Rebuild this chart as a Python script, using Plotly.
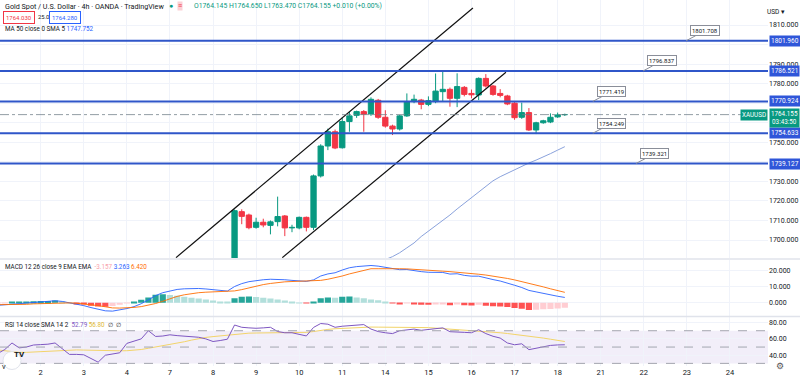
import plotly.graph_objects as go
from plotly.subplots import make_subplots

# ---------------- data ----------------
# 4h bars, index 0 = first bar of Nov 2 (6 bars per trading day)
day_ticks = [0, 6, 12, 18, 24, 30, 36, 42, 48, 54, 60, 66, 72, 78, 84, 90, 96]
day_labels = ["2", "3", "4", "7", "8", "9", "10", "11", "14", "15", "16", "17", "18", "21", "22", "23", "24"]

candle_idx = list(range(27, 74))
opens = [1676.0, 1714.5, 1712.8, 1706.5, 1709.1, 1707.5, 1709.4, 1712.3, 1706.2, 1706.2, 1711.6, 1706.5,
         1732.8, 1748.1, 1755.4, 1747.2, 1760.6, 1763.8, 1765.7, 1764.5, 1771.5, 1762.8, 1758.3, 1756.8,
         1763.5, 1770.8, 1771.6, 1769.4, 1770.8, 1775.9, 1777.1, 1772.5, 1778.1, 1775.0, 1774.2, 1782.7,
         1778.8, 1775.0, 1773.7, 1770.0, 1762.8, 1765.2, 1756.3, 1760.0, 1760.4, 1763.0, 1764.145]
highs = [1715.6, 1715.7, 1713.5, 1711.4, 1710.9, 1710.0, 1722.2, 1712.8, 1707.8, 1712.0, 1712.0, 1733.5,
         1749.0, 1757.0, 1756.5, 1762.8, 1765.7, 1766.2, 1766.5, 1773.0, 1772.2, 1766.4, 1759.0, 1764.0,
         1775.0, 1774.4, 1772.2, 1773.5, 1785.2, 1786.1, 1778.0, 1785.3, 1778.8, 1777.0, 1783.2, 1784.9,
         1779.3, 1777.2, 1774.3, 1770.6, 1770.3, 1767.5, 1760.5, 1761.5, 1764.8, 1765.2, 1764.65]
lows = [1674.5, 1708.1, 1705.5, 1705.8, 1706.5, 1702.9, 1707.0, 1702.0, 1704.0, 1705.5, 1704.4, 1705.1,
        1732.0, 1746.0, 1746.5, 1746.8, 1755.4, 1762.5, 1755.4, 1763.5, 1762.0, 1757.5, 1753.7, 1756.0,
        1763.0, 1770.0, 1766.9, 1768.5, 1770.0, 1770.8, 1768.2, 1768.0, 1773.5, 1772.5, 1771.6, 1778.0,
        1773.8, 1773.0, 1769.0, 1761.5, 1762.0, 1755.8, 1754.2, 1759.5, 1759.8, 1762.5, 1763.47]
closes = [1715.0, 1712.1, 1706.3, 1709.1, 1707.7, 1709.3, 1712.0, 1706.2, 1706.5, 1711.6, 1706.5, 1732.8,
          1748.1, 1755.4, 1747.1, 1760.6, 1763.5, 1765.7, 1764.4, 1772.0, 1762.8, 1758.3, 1756.8, 1763.5,
          1770.8, 1772.0, 1769.4, 1771.3, 1776.2, 1777.1, 1772.5, 1778.5, 1774.5, 1774.3, 1782.7, 1778.8,
          1774.5, 1774.0, 1769.6, 1762.6, 1765.2, 1756.3, 1760.0, 1761.0, 1762.8, 1764.0, 1764.155]

ma_idx = list(range(46, 74))
ma50 = [1686.2, 1688.3, 1690.0, 1691.5, 1693.5, 1696.0, 1698.5, 1701.8, 1704.5, 1707.3, 1710.0, 1712.8,
        1715.9, 1718.8, 1721.8, 1724.9, 1727.8, 1730.3, 1732.4, 1734.2, 1735.8, 1737.6, 1739.4, 1740.9,
        1742.4, 1744.2, 1746.0, 1747.752]

levels = [1801.960, 1786.521, 1770.924, 1754.633, 1739.127]
level_labels = ["1801.960", "1786.521", "1770.924", "1754.633", "1739.127"]
callout_texts = ["1801.708", "1796.837", "1771.419", "1754.249", "1739.321"]
callout_idx = [89.9, 83.9, 76.9, 76.9, 82.9]

last_price = 1764.155

# trend channel (bar index, price)
chan_upper_x = [18.85, 60.2]
chan_upper_y = [1691.0, 1818.7]
chan_lower_x = [33.65, 64.8]
chan_lower_y = [1691.0, 1785.8]

ind_idx = list(range(-6, 74))
macd_line = [-1.6, -1.4, -1.0, -0.6, -0.2, 0.2, 0.5, 0.8, 1.2, 0.8, 0.0, -0.8, -1.8, -3.0, -4.2, -5.0,
             -5.2, -4.6, -3.6, -2.4, -0.6, 1.8, 4.4, 6.2, 7.4, 8.2, 8.6, 8.8, 8.8, 8.5, 8.0, 7.5,
             7.2, 10.0, 11.8, 13.0, 13.8, 14.2, 14.5, 14.5, 14.2, 13.8, 13.4, 13.2, 14.1, 16.5, 17.8, 18.5,
             20.2, 21.6, 22.3, 22.8, 23.0, 22.6, 21.9, 20.8, 20.4, 20.5, 19.7, 19.2, 18.8, 18.8, 18.7, 17.7,
             17.9, 16.9, 16.4, 16.4, 15.2, 14.3, 13.4, 12.3, 10.8, 9.4, 7.6, 6.7, 5.7, 4.8, 4.0, 3.263]
signal_line = [-1.2, -1.2, -1.3, -1.2, -1.0, -0.7, -0.5, -0.3, -0.2, -0.1, -0.1, -0.3, -0.7, -1.2, -1.8, -2.5,
               -3.2, -3.3, -3.3, -2.9, -2.4, -1.5, -0.5, 0.9, 2.6, 3.9, 4.9, 5.7, 6.2, 6.5, 6.7, 6.8,
               7.0, 7.3, 8.1, 9.2, 10.3, 11.2, 11.9, 12.5, 12.9, 13.1, 13.3, 13.4, 13.5, 13.8, 14.5, 15.4,
               16.5, 17.8, 19.0, 20.1, 21.0, 21.0, 21.1, 21.1, 21.0, 20.9, 20.7, 20.4, 20.1, 19.8, 19.5, 19.2,
               18.9, 18.5, 18.1, 17.6, 17.1, 16.5, 15.8, 15.0, 14.1, 13.1, 12.1, 11.0, 9.8, 8.6, 7.5, 6.42]
macd_hist = [-0.4, -0.2, 0.3, 0.6, 0.8, 0.9, 1.0, 1.1, 1.4, 0.9, 0.1, -0.5, -1.1, -1.8, -2.4, -2.5,
             -2.0, -1.3, -0.3, 0.5, 1.8, 3.3, 4.9, 5.3, 4.8, 4.3, 3.7, 3.1, 2.6, 2.0, 1.3, 0.7,
             0.2, 2.7, 3.7, 3.8, 3.5, 3.0, 2.6, 2.0, 1.3, 0.7, 0.1, -0.2, 0.6, 2.7, 3.3, 3.1,
             3.7, 3.8, 3.3, 2.7, 2.0, 1.6, 0.8, -0.3, -0.6, -0.4, -1.0, -1.2, -1.3, -1.0, -0.8, -1.5,
             -1.0, -1.6, -1.7, -1.2, -1.9, -2.2, -2.4, -2.7, -3.3, -3.7, -4.5, -4.3, -4.1, -3.8, -3.5, -3.157]

rsi = [42, 47, 55, 49, 50, 52.5, 53, 53.5, 55, 48, 41, 41, 40.5, 36, 31.5, 40,
       41.5, 43, 54.5, 57, 60, 70, 63, 63.5, 65, 64, 63.6, 63, 62, 60, 56.8, 58,
       59.6, 77, 74.2, 73.5, 73, 73.5, 74.2, 69, 67.5, 67.5, 66, 63.6, 74, 78.8, 78, 74.2,
       75.5, 76.2, 76.9, 77.5, 72, 69, 67.5, 66.5, 70, 71, 72, 70.5, 71.2, 72.5, 73.5, 68.8,
       68.8, 68, 67.5, 71.2, 66.5, 63.2, 61, 55, 52.8, 54, 46.8, 48.5, 50.5, 52, 52.6, 52.79]
rsi_sma = [46.5, 45.5, 44.5, 43.5, 43.5, 44, 44.5, 45, 45.5, 46, 46.5, 46.5, 46.3, 46, 45.8, 45.6,
           45.5, 45.4, 45.5, 46, 47, 48.5, 50, 51.5, 53, 54.5, 56.5, 58.5, 60.5, 61.8, 62.8, 63.6,
           64.5, 66, 66.5, 67, 67.2, 67.3, 67.4, 67.4, 67.4, 67.5, 67.6, 68, 69, 70.5, 71.6, 72.4,
           73, 73.6, 74, 74.4, 74.5, 74.4, 74.3, 74.4, 74.5, 74.6, 74.6, 74.3, 73.8, 73.2, 72.6, 72,
           71.5, 71, 70.6, 70, 69.2, 68.3, 67.5, 66.6, 65.6, 64.6, 63.4, 62.2, 61, 59.6, 58.2, 56.8]

price_ticks = [1700, 1710, 1720, 1730, 1740, 1750, 1760, 1770, 1780, 1790, 1800, 1810]
price_tick_text = ["1700.000", "1710.000", "1720.000", "1730.000", "", "1750.000", "", "",
                   "1780.000", "1790.000", "", "1810.000"]
macd_ticks = [0, 10, 20]
macd_tick_text = ["0.000", "10.000", "20.000"]
rsi_ticks = [40, 60, 80]
rsi_tick_text = ["40.00", "60.00", "80.00"]

# ---------------- style ----------------
UP = "#089981"
DN = "#f23645"
GRID = "#f0f3fa"
TXT = "#131722"
FONT = "Roboto, Arial, sans-serif"
PW, PH = 768.0, 366.0


def px(x):
    return x / PW


def py(y):
    return 1 - y / PH


fig = make_subplots(rows=3, cols=1, shared_xaxes=True, vertical_spacing=0.01)

# candle wicks and bodies
for color, sel in ((UP, lambda o, c: c >= o), (DN, lambda o, c: c < o)):
    wx, wy, bx, by, bb = [], [], [], [], []
    for i, o, h, l, c in zip(candle_idx, opens, highs, lows, closes):
        if sel(o, c):
            wx += [i, i, None]
            wy += [l, h, None]
            bx.append(i)
            by.append(abs(c - o))
            bb.append(min(o, c))
    fig.add_trace(go.Scatter(x=wx, y=wy, mode="lines", line=dict(color=color, width=1),
                             hoverinfo="skip"), row=1, col=1)
    fig.add_trace(go.Bar(x=bx, y=by, base=bb, width=0.74, marker=dict(color=color, line=dict(color=color, width=1))),
                  row=1, col=1)

# MA 50
fig.add_trace(go.Scatter(x=ma_idx, y=ma50, mode="lines", line=dict(color="#8aa2dc", width=1)), row=1, col=1)

# channel
fig.add_trace(go.Scatter(x=chan_upper_x, y=chan_upper_y, mode="lines", line=dict(color="#111", width=1.2)), row=1, col=1)
fig.add_trace(go.Scatter(x=chan_lower_x, y=chan_lower_y, mode="lines", line=dict(color="#111", width=1.2)), row=1, col=1)

# MACD histogram colors
hist_colors = []
prev = None
for h in macd_hist:
    if h >= 0:
        hist_colors.append("#26a69a" if (prev is not None and h > prev) else "#b2dfdb")
    else:
        hist_colors.append("#ff5252" if (prev is not None and h <= prev) else "#ffcdd2")
    prev = h
fig.add_trace(go.Bar(x=ind_idx, y=macd_hist, width=0.86, marker=dict(color=hist_colors, line=dict(width=0))), row=2, col=1)
fig.add_trace(go.Scatter(x=ind_idx, y=macd_line, mode="lines", line=dict(color="#2962ff", width=0.9)), row=2, col=1)
fig.add_trace(go.Scatter(x=ind_idx, y=signal_line, mode="lines", line=dict(color="#ff6d00", width=0.9)), row=2, col=1)

# RSI
fig.add_trace(go.Scatter(x=ind_idx, y=rsi_sma, mode="lines", line=dict(color="#f2d46a", width=1)), row=3, col=1)
fig.add_trace(go.Scatter(x=ind_idx, y=rsi, mode="lines", line=dict(color="#7e57c2", width=1)), row=3, col=1)

shapes = []
# RSI band
shapes.append(dict(type="rect", xref="x3 domain", yref="y3", x0=0, x1=1, y0=30, y1=70,
                   fillcolor="rgba(126,87,194,0.10)", line=dict(width=0), layer="below"))
for v in (30, 50, 70):
    shapes.append(dict(type="line", xref="x3 domain", yref="y3", x0=0, x1=1, y0=v, y1=v,
                       line=dict(color="#a3a6af", width=1, dash="dash")))
# horizontal levels
for lv in levels:
    shapes.append(dict(type="line", xref="x domain", yref="y", x0=0, x1=1, y0=lv, y1=lv,
                       line=dict(color="#2f56c9", width=2)))
# last price line
shapes.append(dict(type="line", xref="x domain", yref="y", x0=0, x1=1, y0=last_price, y1=last_price,
                   line=dict(color="rgba(110,125,135,0.75)", width=1, dash="dashdot")))
# pane separators
for yy in (259, 316.5):
    shapes.append(dict(type="line", xref="paper", yref="paper", x0=0, x1=800 / PW, y0=py(yy), y1=py(yy),
                       line=dict(color="#e0e3eb", width=1.5)))
# TV logo circle
shapes.append(dict(type="circle", xref="paper", yref="paper", x0=px(3), x1=px(21), y0=py(369.5), y1=py(351.5),
                   fillcolor="white", line=dict(color="#e0e3eb", width=1)))

ann = []
# callouts
for t, xi, lv in zip(callout_texts, callout_idx, levels):
    ann.append(dict(x=xi, y=lv, xref="x", yref="y", text=t, showarrow=True, arrowhead=0, arrowwidth=1,
                    arrowcolor="#8a8e99", ax=19, ay=-10, bgcolor="white", bordercolor="#8a8e99",
                    borderwidth=1, borderpad=1, font=dict(size=6, color=TXT, family=FONT)))
# right axis level boxes
for t, lv in zip(level_labels, levels):
    ann.append(dict(x=1, y=lv, xref="paper", yref="y", xanchor="left", xshift=1, text=t, showarrow=False,
                    bgcolor="#2f56d9", borderpad=1, font=dict(size=6.5, color="white", family=FONT)))
ann.append(dict(x=1, y=last_price, xref="paper", yref="y", xanchor="right", text="XAUUSD", showarrow=False,
                bgcolor=UP, borderpad=1, font=dict(size=6.3, color="white", family=FONT)))
ann.append(dict(x=1, y=last_price, xref="paper", yref="y", xanchor="left", xshift=1, yshift=-3,
                text="1764.155<br>03:43:50", showarrow=False, bgcolor=UP, borderpad=1,
                font=dict(size=6.3, color="white", family=FONT)))
ann.append(dict(x=px(787), y=py(6), xref="paper", yref="paper", text="USD ▾", showarrow=False,
                font=dict(size=6.5, color=TXT, family=FONT)))


# header texts
def hdr(x, y, text, size=7, **kw):
    d = dict(x=px(x), y=py(y), xref="paper", yref="paper", xanchor="left", yanchor="middle",
             text=text, showarrow=False, font=dict(size=size, color=TXT, family=FONT))
    d.update(kw)
    ann.append(d)


hdr(3, 6.5, "Gold Spot / U.S. Dollar · 4h · OANDA · TradingView", size=7.2)
hdr(167, 6.5, "●", font=dict(size=7, color=UP, family=FONT))
hdr(177, 6.5, "≡", font=dict(size=7, color=DN, family=FONT), bgcolor="#fbd1d6", borderpad=0)
hdr(192, 6.5, "O1764.145 H1764.650 L1763.470 C1764.155 +0.010 (+0.00%)",
    font=dict(size=6.8, color=UP, family=FONT))
hdr(3, 17, "1764.030", font=dict(size=6, color=DN, family=FONT), bordercolor=DN, borderwidth=1, borderpad=2)
hdr(36, 17, "25.0", size=5.8)
hdr(49, 17, "1764.280", font=dict(size=6, color="#2962ff", family=FONT), bordercolor="#2962ff",
    borderwidth=1, borderpad=2)
hdr(3, 29, 'MA 50 close 0 SMA 5 <span style="color:#2962ff">1747.752</span>', size=6.3)
hdr(3, 267, 'MACD 12 26 close 9 EMA EMA  <span style="color:#f7a1aa">-3.157</span> '
            '<span style="color:#2962ff">3.263</span> <span style="color:#ff6d00">6.420</span>', size=6.3)
hdr(3, 324.5, 'RSI 14 close SMA 14 2  <span style="color:#7e57c2">52.79</span> '
              '<span style="color:#e0b832">56.80</span>  ∅  ∅', size=6.3)
# TV logo and bottom labels
ann.append(dict(x=px(12), y=py(360.5), xref="paper", yref="paper", text="<b>TV</b>", showarrow=False,
                font=dict(size=8, color="#131722", family=FONT)))
ann.append(dict(x=px(0), y=py(373), xref="paper", yref="paper", xanchor="left", text="v", showarrow=False,
                font=dict(size=7.5, color=TXT, family=FONT)))
ann.append(dict(x=px(786), y=py(373), xref="paper", yref="paper", text="⚙", showarrow=False,
                font=dict(size=9, color="#555", family=FONT)))

fig.update_layout(
    width=800, height=380, margin=dict(l=0, r=32, t=0, b=14),
    paper_bgcolor="white", plot_bgcolor="white", showlegend=False, barmode="overlay",
    font=dict(family=FONT, color=TXT), shapes=shapes, annotations=ann, hovermode=False,
    yaxis=dict(domain=[py(258), 1]), yaxis2=dict(domain=[py(316), py(259.5)]),
    yaxis3=dict(domain=[0, py(317)]),
)

xcommon = dict(range=[-5.67, 101.3], tickvals=day_ticks, ticktext=day_labels, showgrid=True, gridcolor=GRID,
               gridwidth=1, zeroline=False, showline=False, ticks="", tickfont=dict(size=7.5, color=TXT, family=FONT))
fig.update_xaxes(**xcommon)
fig.update_xaxes(showticklabels=False, row=1, col=1)
fig.update_xaxes(showticklabels=False, row=2, col=1)
fig.update_xaxes(showticklabels=True, row=3, col=1)

ycommon = dict(side="right", showgrid=True, gridcolor=GRID, zeroline=False, showline=False, ticks="",
               automargin=False, tickfont=dict(size=7, color=TXT, family=FONT))
fig.update_yaxes(**ycommon)
fig.update_yaxes(range=[1690.8, 1822.8], tickvals=price_ticks, ticktext=price_tick_text, row=1, col=1)
fig.update_yaxes(range=[-8.2, 26.7], tickvals=macd_ticks, ticktext=macd_tick_text, row=2, col=1)
fig.update_yaxes(range=[26.8, 86.8], tickvals=rsi_ticks, ticktext=rsi_tick_text, row=3, col=1)

fig.write_html("out.html", config={"displayModeBar": False},
               post_script="document.body.style.margin='0';document.body.style.padding='0';")
